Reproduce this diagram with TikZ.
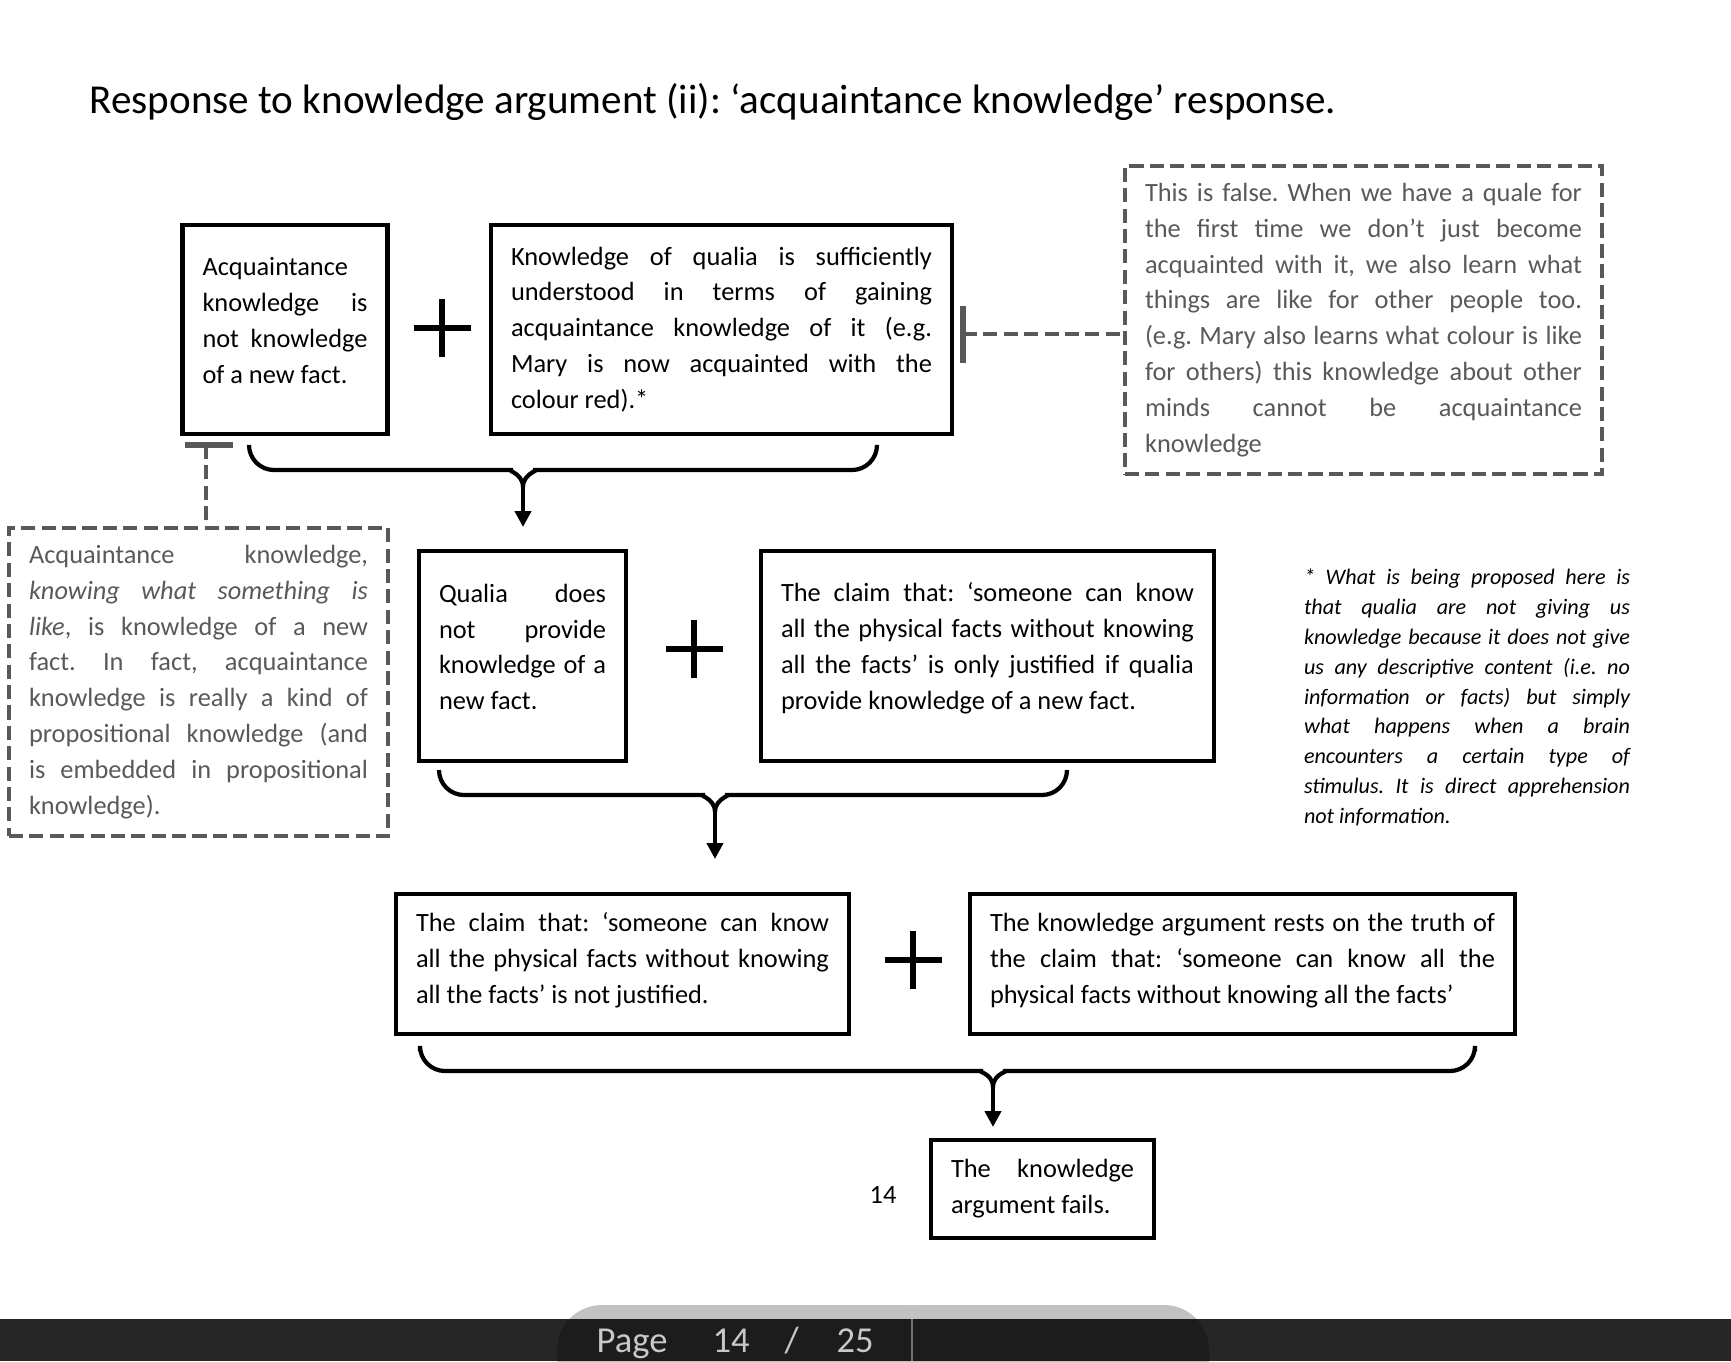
\documentclass[tikz,border=0pt]{standalone}
\usepackage{fontspec}
\setmainfont{Carlito}
\usetikzlibrary{positioning,arrows.meta}
\definecolor{notegray}{HTML}{595959}
\definecolor{viewerbar}{HTML}{262626}
\definecolor{viewertext}{HTML}{C8C8C8}
\frenchspacing
\tolerance=10000
\hbadness=10000
\hyphenpenalty=10000

\begin{document}
\begin{tikzpicture}[>={Triangle[length=1.6mm,width=1.6mm]},
    claim/.style={draw,line width=1.2pt,inner xsep=0.2cm,inner ysep=0pt,align=justify,
      font=\fontsize{7.5}{10.2}\selectfont},
    reply/.style={claim,draw=notegray,text=notegray,line width=1.3pt,dash pattern=on 4pt off 1.8pt},
    lift/.style={execute at end node={\endgraf\vspace*{#1}}},
    plusbar/.style={line width=1.7pt},
    brace/.style={line width=1.2pt,rounded corners=0.25cm},
    tbar/.style={notegray,line width=1.5pt},
    dashlink/.style={notegray,line width=1.3pt,dash pattern=on 4pt off 1.8pt}]
\useasboundingbox (0,0) rectangle (17.31,-13.61);

\node[anchor=base west,inner sep=0pt,font=\fontsize{11.7}{14}\selectfont] (title) at (0.89,-1.13)
  {Response to knowledge argument (ii): ‘acquaintance knowledge’ response.};

% first row
\node[claim,lift=0.18cm,text width=1.65cm,minimum height=2.09cm] (acqfact) at (2.85,-3.295)
  {Acquaintance \linebreak knowledge is \linebreak not knowledge \linebreak of a new fact.};
\node[claim,text width=4.21cm,minimum height=2.09cm] (qualiacq) at (7.215,-3.295)
  {Knowledge of qualia is sufficiently \linebreak understood in terms of gaining \linebreak
   acquaintance knowledge of it (e.g. \linebreak Mary is now acquainted with the \linebreak colour red).*};
\node[reply,text width=4.37cm,minimum height=3.08cm] (quale) at (13.635,-3.20)
  {This is false. When we have a quale for \linebreak the first time we don’t just become \linebreak
   acquainted with it, we also learn what \linebreak things are like for other people too. \linebreak
   (e.g. Mary also learns what colour is like \linebreak for others) this knowledge about other \linebreak
   minds cannot be acquaintance \linebreak knowledge};

% second row
\node[reply,text width=3.39cm,minimum height=3.08cm] (propnote) at (1.985,-6.82)
  {Acquaintance knowledge, \linebreak \textit{knowing what something is} \linebreak
   \textit{like}, is knowledge of a new \linebreak fact. In fact, acquaintance \linebreak
   knowledge is really a kind of \linebreak propositional knowledge (and \linebreak
   is embedded in propositional \linebreak knowledge).};
\node[claim,lift=0.18cm,text width=1.67cm,minimum height=2.10cm] (nofact) at (5.225,-6.56)
  {Qualia does \linebreak not provide \linebreak knowledge of a \linebreak new fact.};
\node[claim,lift=0.155cm,text width=4.13cm,minimum height=2.10cm] (onlyif) at (9.875,-6.56)
  {The claim that: ‘someone can know \linebreak all the physical facts without knowing \linebreak
   all the facts’ is only justified if qualia \linebreak provide knowledge of a new fact.};
\node[align=justify,text width=3.26cm,inner sep=0pt,font=\fontsize{6.3}{8.5}\selectfont\itshape] (starnote) at (14.67,-6.975)
  {* What is being proposed here is \linebreak that qualia are not giving us \linebreak
   knowledge because it does not give \linebreak us any descriptive content (i.e. no \linebreak
   information or facts) but simply \linebreak what happens when a brain \linebreak
   encounters a certain type of \linebreak stimulus. It is direct apprehension \linebreak not information.};

% third row
\node[claim,lift=0.07cm,text width=4.13cm,minimum height=1.40cm] (notjust) at (6.225,-9.64)
  {The claim that: ‘someone can know \linebreak all the physical facts without knowing \linebreak
   all the facts’ is not justified.};
\node[claim,lift=0.07cm,text width=5.05cm,minimum height=1.40cm] (rests) at (12.425,-9.64)
  {The knowledge argument rests on the truth of \linebreak the claim that: ‘someone can know all the \linebreak
   physical facts without knowing all the facts’};

% conclusion
\node[claim,text width=1.83cm,minimum height=0.98cm] (fails) at (10.425,-11.89)
  {The knowledge \linebreak argument fails.};
\node[font=\fontsize{7.5}{10.2}\selectfont] (pagenum) at (8.83,-11.95) {14};

% plus signs
\foreach \px/\py in {4.42/-3.28, 6.94/-6.49, 9.13/-9.60}
  \draw[plusbar] (\px-0.285,\py) -- (\px+0.285,\py) (\px,\py+0.29) -- (\px,\py-0.29);

% objections
\coordinate (tq) at (9.63,-3.34);
\draw[tbar] ([yshift=0.28cm]tq) -- ([yshift=-0.29cm]tq);
\draw[dashlink] (tq) -- (tq -| quale.west);
\coordinate (ta) at (2.06,-4.45);
\draw[tbar] ([xshift=-0.21cm]ta) -- ([xshift=0.27cm]ta);
\draw[dashlink] (ta) -- (ta |- propnote.north);

% braces
\coordinate (k1) at (5.23,-4.87);
\coordinate (t1) at (5.23,-5.27);
\draw[brace] (k1) to[out=90,in=0] ++(-0.35,0.17) -- ++(-2.39,0) -- ++(0,0.24);
\draw[brace] (k1) to[out=90,in=180] ++(0.35,0.17) -- ++(3.19,0) -- ++(0,0.24);
\draw[->,line width=1.2pt] (k1) -- (t1);

\coordinate (k2) at (7.15,-8.12);
\coordinate (t2) at (7.15,-8.59);
\draw[brace] (k2) to[out=90,in=0] ++(-0.35,0.17) -- ++(-2.41,0) -- ++(0,0.25);
\draw[brace] (k2) to[out=90,in=180] ++(0.35,0.17) -- ++(3.17,0) -- ++(0,0.25);
\draw[->,line width=1.2pt] (k2) -- (t2);

\coordinate (k3) at (9.93,-10.87);
\coordinate (t3) at (9.93,-11.27);
\draw[brace] (k3) to[out=90,in=0] ++(-0.35,0.16) -- ++(-5.38,0) -- ++(0,0.20);
\draw[brace] (k3) to[out=90,in=180] ++(0.35,0.16) -- ++(4.47,0) -- ++(0,0.20);
\draw[->,line width=1.2pt] (k3) -- (t3);

% viewer bar
\fill[viewerbar] (0,-13.19) rectangle (17.31,-13.61);
\fill[black,opacity=0.24,rounded corners=0.45cm] (5.57,-13.05) rectangle (12.09,-14.2);
\draw[viewertext,opacity=0.5,line width=0.4pt] (9.12,-13.05) -- (9.12,-13.61);
\begin{scope}[viewertext,font=\fontsize{10.4}{12}\selectfont]
\node[anchor=base west,inner sep=0pt] (pg) at (5.96,-13.52) {Page};
\node[anchor=base west,inner sep=0pt] (pgno) at (7.12,-13.52) {14};
\node[anchor=base west,inner sep=0pt] (pgsep) at (7.84,-13.52) {/};
\node[anchor=base west,inner sep=0pt] (pgall) at (8.36,-13.52) {25};
\end{scope}
\end{tikzpicture}
\end{document}
